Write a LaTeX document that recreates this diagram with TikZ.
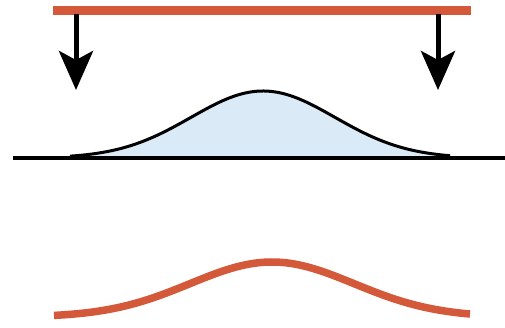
\documentclass[tikz,border=0pt]{standalone}
\usetikzlibrary{arrows.meta}
\definecolor{barorange}{RGB}{212,88,58}
\definecolor{bumpblue}{RGB}{218,234,246}
\tikzset{
  orangeline/.style={draw=barorange, line width=9pt},
  pusharrow/.style={draw=black, line width=5pt, -{Stealth[length=39pt, width=34pt, inset=9pt]}},
  groundline/.style={draw=black, line width=4pt},
  bumpline/.style={draw=black, line width=3pt, fill=bumpblue},
}
\begin{document}
\begin{tikzpicture}[x=1pt, y=-1pt]
\useasboundingbox (0,0) rectangle (505,327);
% top bar
\coordinate (barL) at (53,10);
\coordinate (barR) at (471,10);
\draw[orangeline] (barL) -- (barR);
% arrows
\coordinate (a1s) at (76,14);
\coordinate (a1e) at (76,90);
\coordinate (a2s) at (438,14);
\coordinate (a2e) at (438,90);
\draw[pusharrow] (a1s) -- (a1e);
\draw[pusharrow] (a2s) -- (a2e);
% bump
\draw[bumpline, domain=70:450, samples=150, smooth]
  plot (\x, {158 - 67*exp(-0.5*((\x-263)/72)^2)});
% ground
\coordinate (gL) at (13,158);
\coordinate (gR) at (505,158);
\draw[groundline] (gL) -- (gR);
% bottom curve
\draw[orangeline, line width=7.5pt, domain=54:470, samples=120, smooth]
  plot (\x, {317 - 55*exp(-0.5*((\x-272)/82)^2)});
\end{tikzpicture}
\end{document}
